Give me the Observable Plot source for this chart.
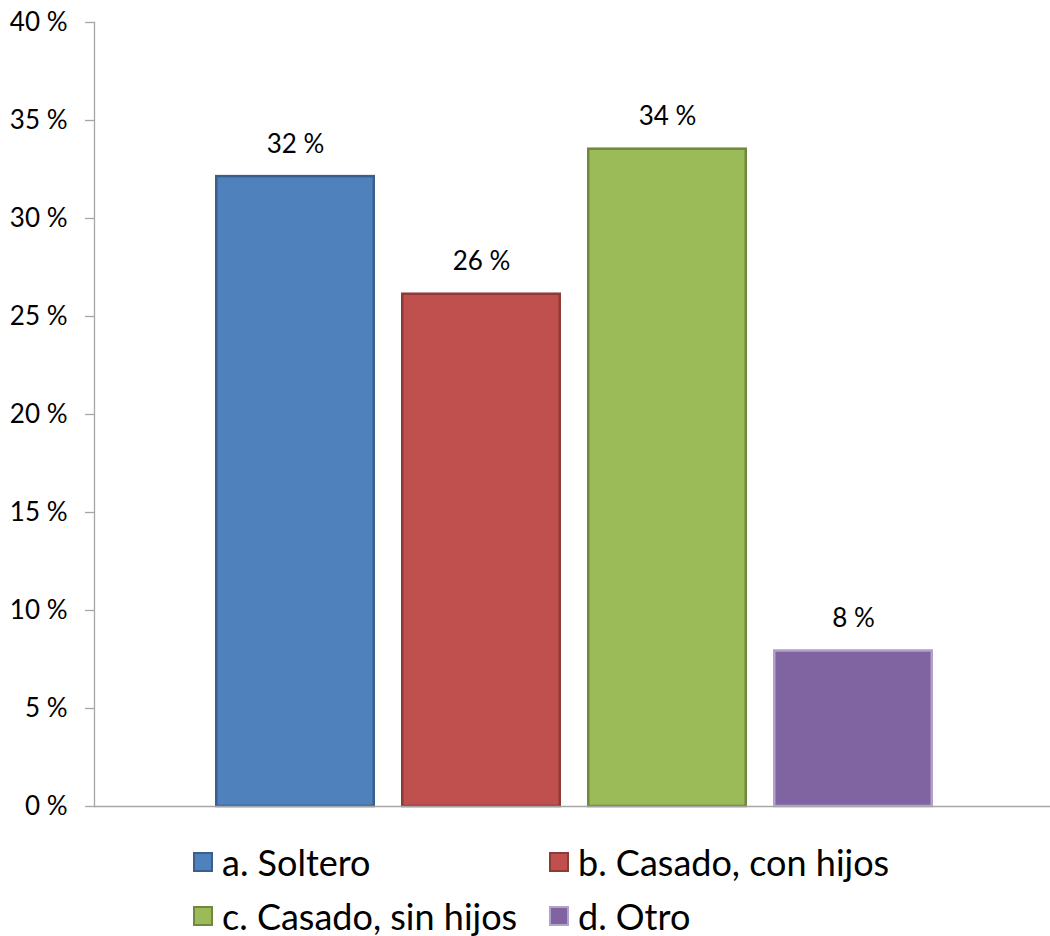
<!DOCTYPE html>
<html>
<head>
<meta charset="utf-8">
<script src="https://cdn.jsdelivr.net/npm/d3@7"></script>
<script src="https://cdn.jsdelivr.net/npm/@observablehq/plot@0.6"></script>
<style>
  html, body { margin: 0; padding: 0; background: #fff; }
  body { width: 1050px; height: 936px; overflow: hidden; font-family: Lato, "Open Sans", sans-serif; }
  #legend { position: relative; width: 1050px; height: 106px; }
  .item { position: absolute; display: flex; align-items: center; gap: 9px; font-size: 36px; color: #000; line-height: 1; white-space: nowrap; }
  .sw { width: 20px; height: 20px; box-sizing: border-box; }
</style>
</head>
<body>
<div id="chart"></div>
<div id="legend"></div>
<script>
// Data
const categories = ["a. Soltero", "b. Casado, con hijos", "c. Casado, sin hijos", "d. Otro"];
const values = [32.2, 26.2, 33.6, 8.0];
const yTicks = [0, 5, 10, 15, 20, 25, 30, 35, 40];

// Styles
const fills = ["#4f81bd", "#c0504d", "#9bbb59", "#8064a2"];
const edges = ["#3a5f8c", "#8e3a38", "#6f883e", "#b3a2c7"];

const data = categories.map((c, i) => ({cat: c, value: values[i], fill: fills[i], edge: edges[i]}));

const chart = Plot.plot({
  width: 1050,
  height: 830,
  marginLeft: 94,
  marginRight: 0,
  marginTop: 22,
  marginBottom: 24,
  style: {fontFamily: "Lato, 'Open Sans', sans-serif", background: "#fff"},
  x: {domain: categories, range: [202, 946], paddingInner: 0.14, paddingOuter: 0.07, axis: null},
  y: {domain: [0, 40], axis: null},
  color: {type: "identity"},
  marks: [
    Plot.frame({anchor: "left", stroke: "#a6a6a6", strokeWidth: 1.3}),
    Plot.axisY({ticks: yTicks, tickFormat: d => d + " %", label: null, tickSize: 9, tickPadding: 18, fontSize: 26, stroke: "#a6a6a6", fill: "#000", strokeWidth: 1.3}),
    Plot.barY(data, {x: "cat", y: "value", fill: d => d.fill, stroke: d => d.edge, strokeWidth: 2.5, insetLeft: 1.25, insetRight: 1.25, insetTop: 1.25}),
    Plot.ruleY([0], {stroke: "#a6a6a6", strokeWidth: 1.3}),
    Plot.text(data, {x: "cat", y: "value", text: d => Math.round(d.value) + " %", dy: -31, fontSize: 26, fill: "#000"})
  ]
});
document.getElementById("chart").appendChild(chart);

// Legend
const legend = document.getElementById("legend");
const pos = [[193, 32], [549, 32], [193, 86], [549, 86]];
categories.forEach((c, i) => {
  const it = document.createElement("div");
  it.className = "item";
  it.style.left = pos[i][0] + "px";
  it.style.top = (pos[i][1] - 20) + "px";
  it.style.height = "40px";
  const sw = document.createElement("span");
  sw.className = "sw";
  sw.style.background = fills[i];
  sw.style.border = "2px solid " + edges[i];
  const tx = document.createElement("span");
  tx.textContent = c;
  it.appendChild(sw);
  it.appendChild(tx);
  legend.appendChild(it);
});
</script>
</body>
</html>
